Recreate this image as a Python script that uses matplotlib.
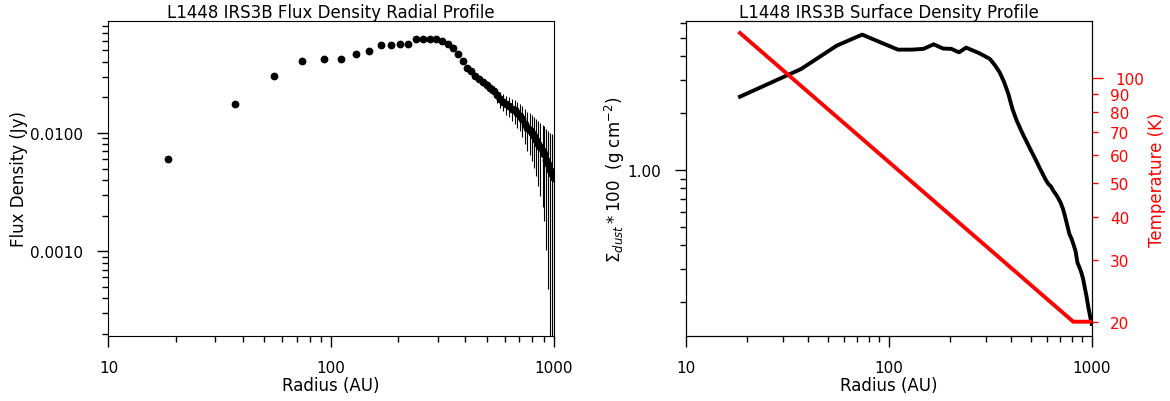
import matplotlib
matplotlib.use("Agg")
import matplotlib.pyplot as plt
from matplotlib.ticker import FixedLocator, FormatStrFormatter, NullFormatter, LogLocator

# ---- data ----
radius_au = [18.5, 37.0, 55.5, 74.0, 92.5, 111.0, 129.5, 148.0, 166.5, 185.0,
             203.5, 222.0, 240.5, 259.0, 277.5, 296.0, 314.5, 333.0, 351.5, 370.0,
             388.5, 407.0, 425.5, 444.0, 462.5, 481.0, 499.5, 518.0, 536.5, 555.0,
             573.5, 592.0, 610.5, 629.0, 647.5, 666.0, 684.5, 703.0, 721.5, 740.0,
             758.5, 777.0, 795.5, 814.0, 832.5, 851.0, 869.5, 888.0, 906.5, 925.0,
             943.5, 962.0, 980.5, 999.0]

flux_jy = [0.00605, 0.0176, 0.0301, 0.0410, 0.0424, 0.0424, 0.0462, 0.0496, 0.0553, 0.0553,
           0.0570, 0.0570, 0.0629, 0.0629, 0.0629, 0.0624, 0.0605, 0.0562, 0.0528, 0.0464,
           0.0403, 0.0354, 0.0332, 0.0305, 0.0286, 0.0269, 0.0253, 0.0239, 0.0225, 0.0208,
           0.0193, 0.0184, 0.0175, 0.0169, 0.0161, 0.0155, 0.0147, 0.0140, 0.0131, 0.0119,
           0.0111, 0.0106, 0.0100, 0.00935, 0.00873, 0.00809, 0.00756, 0.00706, 0.00660, 0.00593,
           0.00548, 0.00488, 0.00452, 0.00419]

flux_err = [0.0003, 0.0003, 0.0004, 0.0004, 0.0004, 0.0004, 0.0005, 0.0005, 0.0005, 0.0005,
            0.0006, 0.0006, 0.0006, 0.0007, 0.0007, 0.0008, 0.0008, 0.0009, 0.0010, 0.0010,
            0.0011, 0.0012, 0.0013, 0.0014, 0.0016, 0.0018, 0.0020, 0.0022, 0.0025, 0.0028,
            0.0030, 0.0031, 0.0032, 0.0033, 0.0034, 0.0035, 0.0036, 0.0037, 0.0038, 0.0039,
            0.0040, 0.0041, 0.0042, 0.0043, 0.0044, 0.0045, 0.0046, 0.0047, 0.0048, 0.0049,
            0.0050, 0.0051, 0.0052, 0.0053]

sigma_dust_x100 = [2.44, 3.42, 4.55, 5.20, 4.70, 4.33, 4.33, 4.37, 4.62, 4.39,
                   4.37, 4.19, 4.44, 4.29, 4.16, 4.01, 3.87, 3.59, 3.29, 2.92,
                   2.52, 2.10, 1.84, 1.66, 1.51, 1.39, 1.28, 1.186, 1.10, 1.02,
                   0.952, 0.891, 0.843, 0.818, 0.774, 0.742, 0.707, 0.669, 0.622, 0.564,
                   0.506, 0.456, 0.432, 0.401, 0.371, 0.322, 0.305, 0.287, 0.265, 0.237,
                   0.213, 0.188, 0.169, 0.153]

temp_radius_au = [18.5, 811.0, 999.0]
temperature_k = [134.6, 20.0, 20.0]

x_ticks = [10, 100, 1000]
temp_ticks_major = [100]
temp_ticks_minor = [20, 30, 40, 50, 60, 70, 80, 90]

plt.rcParams['font.family'] = ['DejaVu Sans']
plt.rcParams['font.size'] = 12

fig = plt.figure(figsize=(11.7, 4.02), dpi=100)
ax1 = fig.add_axes([0.0927, 0.1617, 0.3808, 0.7836])
ax2 = fig.add_axes([0.5861, 0.1617, 0.3470, 0.7836])


def style_ticks(ax):
    ax.tick_params(which='major', direction='out', length=8, width=1,
                   top=False, right=False, labelsize=11)
    ax.tick_params(which='minor', direction='out', length=4, width=1,
                   top=False, right=False)
    ax.tick_params(axis='x', which='both', pad=9)
    ax.tick_params(axis='y', which='both', pad=10)


# ---- left panel ----
ax1.set_xscale('log')
ax1.set_yscale('log')
ax1.errorbar(radius_au, flux_jy, yerr=flux_err, fmt='o', color='black',
             ecolor='black', elinewidth=0.8, markersize=4.6, capsize=0)
ax1.set_xlim(10, 1000)
ax1.set_ylim(1.92e-4, 0.0885)
ax1.xaxis.set_major_locator(FixedLocator(x_ticks))
ax1.xaxis.set_major_formatter(FormatStrFormatter('%d'))
ax1.xaxis.set_minor_locator(LogLocator(base=10, subs=range(2, 10)))
ax1.xaxis.set_minor_formatter(NullFormatter())
ax1.yaxis.set_major_locator(LogLocator(base=10))
ax1.yaxis.set_major_formatter(FormatStrFormatter('%.4f'))
ax1.yaxis.set_minor_locator(LogLocator(base=10, subs=range(2, 10)))
ax1.yaxis.set_minor_formatter(NullFormatter())
style_ticks(ax1)
ax1.set_xlabel('Radius (AU)', fontsize=12, labelpad=1)
ax1.set_ylabel('Flux Density (Jy)', fontsize=12, labelpad=2)
ax1.set_title('L1448 IRS3B Flux Density Radial Profile', fontsize=12, pad=3)

# ---- right panel ----
ax2.set_xscale('log')
ax2.set_yscale('log')
ax2.plot(radius_au, sigma_dust_x100, color='black', lw=2.8)
ax2.set_xlim(10, 1000)
ax2.set_ylim(0.132, 6.14)
ax2.xaxis.set_major_locator(FixedLocator(x_ticks))
ax2.xaxis.set_major_formatter(FormatStrFormatter('%d'))
ax2.xaxis.set_minor_locator(LogLocator(base=10, subs=range(2, 10)))
ax2.xaxis.set_minor_formatter(NullFormatter())
ax2.yaxis.set_major_locator(LogLocator(base=10))
ax2.yaxis.set_major_formatter(FormatStrFormatter('%.2f'))
ax2.yaxis.set_minor_locator(LogLocator(base=10, subs=range(2, 10)))
ax2.yaxis.set_minor_formatter(NullFormatter())
style_ticks(ax2)
ax2.set_xlabel('Radius (AU)', fontsize=12, labelpad=1)
ax2.set_ylabel(r'$\Sigma_{dust} * 100$  (g cm$^{-2}$)', fontsize=12, labelpad=0)
ax2.set_title('L1448 IRS3B Surface Density Profile', fontsize=12, pad=3)

ax2r = ax2.twinx()
ax2r.set_yscale('log')
ax2r.plot(temp_radius_au, temperature_k, color='red', lw=2.8)
ax2r.set_xlim(10, 1000)
ax2r.set_ylim(18.2, 145.7)
ax2r.yaxis.set_major_locator(FixedLocator(temp_ticks_major))
ax2r.yaxis.set_major_formatter(FormatStrFormatter('%d'))
ax2r.yaxis.set_minor_locator(FixedLocator(temp_ticks_minor))
ax2r.yaxis.set_minor_formatter(FormatStrFormatter('%d'))
ax2r.tick_params(axis='y', which='major', direction='out', length=8, width=1,
                 colors='red', labelsize=11, pad=9)
ax2r.tick_params(axis='y', which='minor', direction='out', length=4, width=1,
                 colors='red', labelsize=11, pad=9)
ax2r.set_ylabel('Temperature (K)', color='red', fontsize=12, labelpad=3)

fig.savefig('out.png', dpi=100)
